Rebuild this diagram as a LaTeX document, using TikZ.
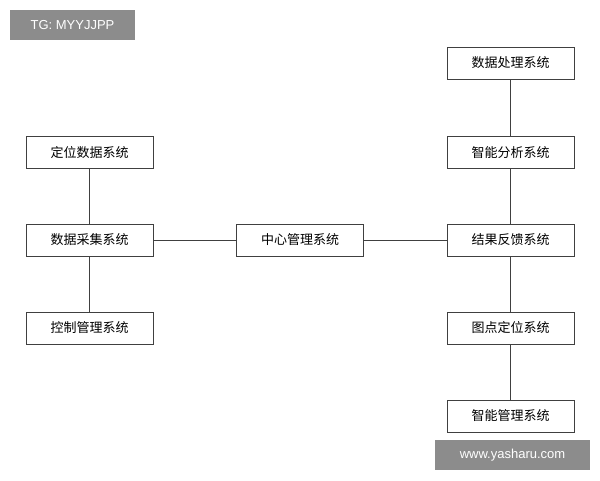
\documentclass[tikz,border=0pt]{standalone}
\usepackage{fontspec}
\setmainfont{Liberation Sans}
\newfontfamily\cjk{Noto Sans CJK SC}
\begin{document}
\begin{tikzpicture}[x=1pt,y=-1pt,
  box/.style={draw=black!75,line width=0.8pt,minimum width=127pt,minimum height=32pt,inner sep=0pt,font=\cjk\fontsize{13}{13}\selectfont},
  wm/.style={fill=black!45,text=white,inner sep=0pt,font=\fontsize{13}{13}\selectfont},
  ln/.style={draw=black!75,line width=0.8pt}]
\useasboundingbox[fill=white] (0,0) rectangle (600,480);
\node[box] (a) at (89.5,152.5) {定位数据系统};
\node[box] (b) at (89.5,240) {数据采集系统};
\node[box] (c) at (89.5,328) {控制管理系统};
\node[box] (m) at (300,240) {中心管理系统};
\node[box] (r1) at (510.5,63) {数据处理系统};
\node[box] (r2) at (510.5,152.5) {智能分析系统};
\node[box] (r3) at (510.5,240) {结果反馈系统};
\node[box] (r4) at (510.5,328) {图点定位系统};
\node[box] (r5) at (510.5,416) {智能管理系统};
\draw[ln] (a)--(b) (b)--(c) (b)--(m) (m)--(r3) (r1)--(r2) (r2)--(r3) (r3)--(r4) (r4)--(r5);
\node[wm,minimum width=125pt,minimum height=30pt] (w1) at (72.5,25) {TG: MYYJJPP};
\node[wm,minimum width=155pt,minimum height=30pt] (w2) at (512.5,455) {www.yasharu.com};
\end{tikzpicture}
\end{document}
